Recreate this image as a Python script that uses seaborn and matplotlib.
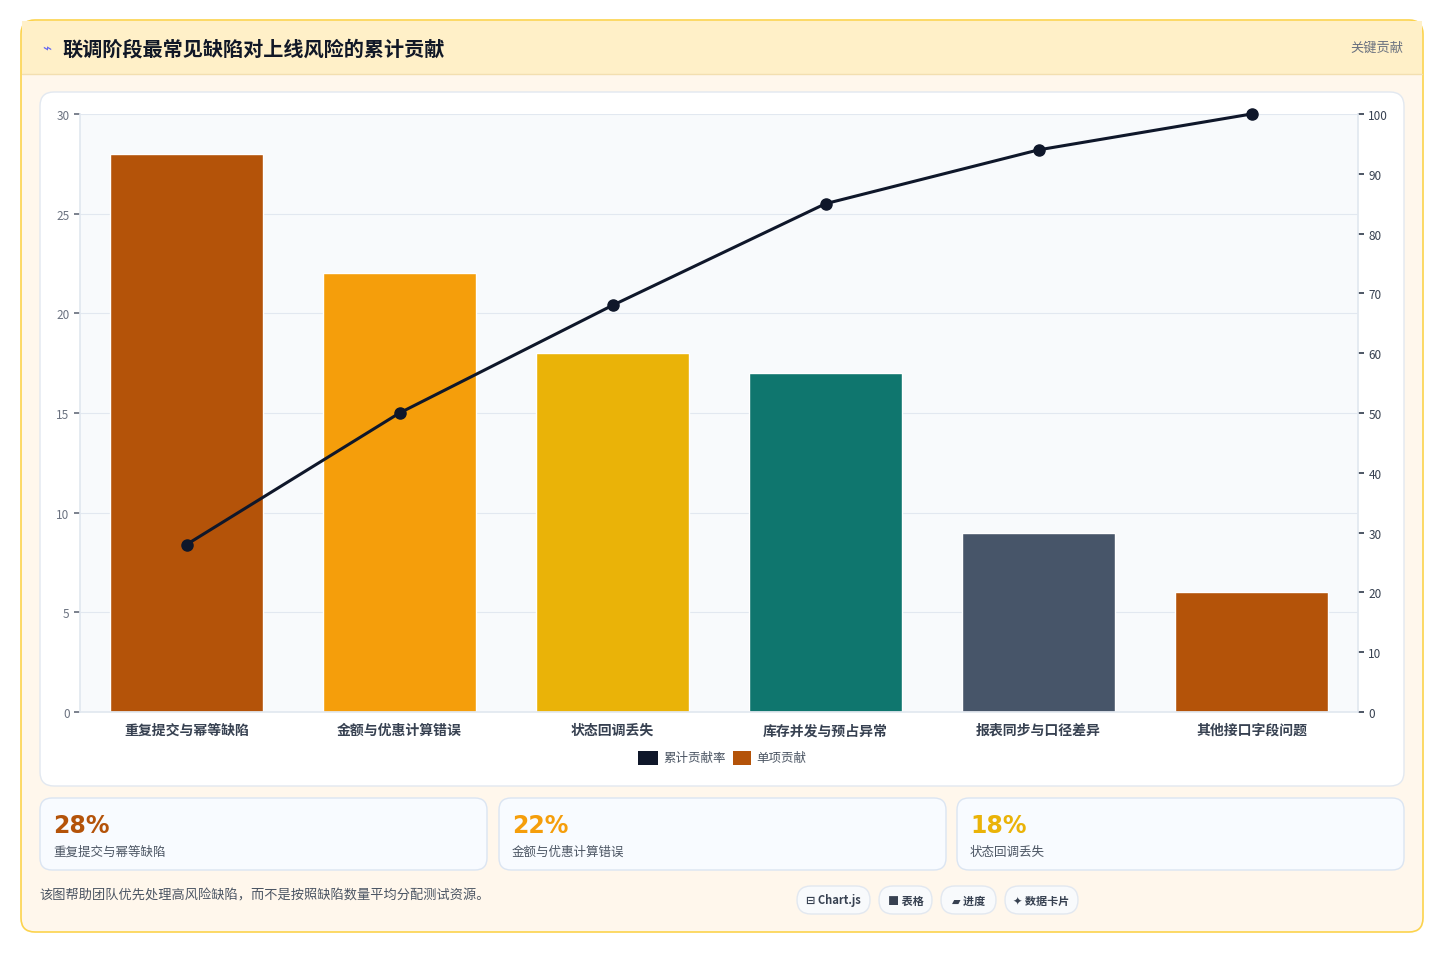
import matplotlib
matplotlib.use("Agg")
import matplotlib.pyplot as plt
import seaborn as sns
import pandas as pd
from matplotlib.patches import FancyBboxPatch, Rectangle
from matplotlib.lines import Line2D

categories = ["重复提交与幂等缺陷", "金额与优惠计算错误", "状态回调丢失", "库存并发与预占异常", "报表同步与口径差异", "其他接口字段问题"]
single = [28, 22, 18, 17, 9, 6]
cumulative = [28, 50, 68, 85, 94, 100]
bar_colors = ["#b45309", "#f59e0b", "#eab308", "#0f766e", "#475569", "#b45309"]
left_ticks = [0, 5, 10, 15, 20, 25, 30]
right_ticks = [0, 10, 20, 30, 40, 50, 60, 70, 80, 90, 100]
cards = [("28%", "重复提交与幂等缺陷", "#b45309"), ("22%", "金额与优惠计算错误", "#f59e0b"), ("18%", "状态回调丢失", "#eab308")]
chips = ["⊟ Chart.js", "■ 表格", "▰ 进度", "✦ 数据卡片"]

sns.set_theme(style="white")
plt.rcParams["font.family"] = ["Noto Sans CJK SC", "DejaVu Sans"]

W, H = 1444, 954
fig = plt.figure(figsize=(W / 100, H / 100), dpi=100)
fig.patch.set_facecolor("white")

def box(x, y, w, h, fc, ec, r=10, lw=1, z=-2):
    p = FancyBboxPatch((x / W, 1 - (y + h) / H), w / W, h / H,
                       boxstyle=f"round,pad=0,rounding_size={r / W}",
                       transform=fig.transFigure, fc=fc, ec=ec, lw=lw, zorder=z,
                       mutation_aspect=W / H)
    fig.patches.append(p)

def txt(x, y, s, **kw):
    fig.text(x / W, 1 - y / H, s, **kw)

# outer card
box(21, 21, 1402, 912, "#fff7ec", "#fcd34d", r=14, lw=1.2, z=-5)
fig.patches.append(Rectangle((22 / W, 1 - 75 / H), 1400 / W, 53 / H, transform=fig.transFigure,
                             fc="#fff0c8", ec="none", zorder=-4))
fig.add_artist(Line2D([22 / W, 1422 / W], [1 - 75 / H] * 2, color="#f3dfb0", lw=1, zorder=-3))
txt(42, 49, "⌁", color="#6366f1", fontsize=11, va="center", family=["DejaVu Sans"])
txt(62, 49, "联调阶段最常见缺陷对上线风险的累计贡献", fontsize=14.5, fontweight="bold", color="#111827", va="center")
txt(1403, 48, "关键贡献", fontsize=9.5, color="#6b7280", va="center", ha="right")

# chart panel
box(40, 93, 1364, 694, "white", "#e2e8f0", r=14)

ax = fig.add_axes([80 / W, 1 - 713 / H, 1278 / W, 598 / H])
ax.set_zorder(1)
ax.set_facecolor("#f8fafc")
df = pd.DataFrame({"cat": categories, "val": single})
sns.barplot(data=df, x="cat", y="val", hue="cat", palette=bar_colors, legend=False,
            width=0.72, ax=ax, zorder=2, saturation=1)
ax.set_xlim(-0.5, len(categories) - 0.5)
ax.set_ylim(0, 30)
ax.set_yticks(left_ticks)
ax.set_xlabel("")
ax.set_ylabel("")
ax.grid(axis="y", color="#e2e8f0", lw=0.8, zorder=0)
ax.set_axisbelow(True)
ax.tick_params(axis="y", labelsize=8.5, colors="#6b7280", length=4)
ax.tick_params(axis="x", labelsize=10, labelcolor="#374151", length=0, pad=8)
for lbl in ax.get_xticklabels():
    lbl.set_fontweight("bold")
for s in ["top", "right"]:
    ax.spines[s].set_visible(False)
for s in ["left", "bottom"]:
    ax.spines[s].set_color("#e2e8f0")

ax2 = ax.twinx()
ax2.plot(range(len(categories)), cumulative, color="#0f172a", lw=2.2, marker="o", ms=8, zorder=5, clip_on=False)
ax2.set_xlim(-0.5, len(categories) - 0.5)
ax2.set_ylim(0, 100)
ax2.set_yticks(right_ticks)
ax2.tick_params(axis="y", labelsize=8.5, colors="#374151", length=4)
for s in ["top", "left", "bottom"]:
    ax2.spines[s].set_visible(False)
ax2.spines["right"].set_color("#e2e8f0")
ax2.grid(False)

# legend
fig.patches.append(Rectangle((638 / W, 1 - 766 / H), 20 / W, 14 / H, transform=fig.transFigure, fc="#0f172a", ec="none"))
txt(663, 758, "累计贡献率", fontsize=9, color="#4b5563", va="center")
fig.patches.append(Rectangle((733 / W, 1 - 766 / H), 18 / W, 14 / H, transform=fig.transFigure, fc="#b45309", ec="none"))
txt(756, 758, "单项贡献", fontsize=9, color="#4b5563", va="center")

# KPI cards
cx = [40, 499, 957]
for x, (v, l, c) in zip(cx, cards):
    box(x, 799, 447, 72, "#f8fbff", "#dbe5f2", r=12)
    txt(x + 13, 826, v, fontsize=17, fontweight="bold", color=c, va="center", family=["DejaVu Sans"])
    txt(x + 13, 852, l, fontsize=9, color="#4b5563", va="center")

txt(39, 896, "该图帮助团队优先处理高风险缺陷，而不是按照缺陷数量平均分配测试资源。", fontsize=9.5, color="#4b5563", va="center")

# chips
chip_x = [797, 879, 941, 1005]
chip_w = [73, 53, 55, 73]
for x, w, s in zip(chip_x, chip_w, chips):
    box(x, 887, w, 28, "#f8fafc", "#e2e8f0", r=14)
    txt(x + w / 2, 901, s, fontsize=8, color="#374151", fontweight="bold", ha="center", va="center",
        family=["Noto Sans CJK SC", "DejaVu Sans"])

fig.savefig("out.png", dpi=100, facecolor="white")
